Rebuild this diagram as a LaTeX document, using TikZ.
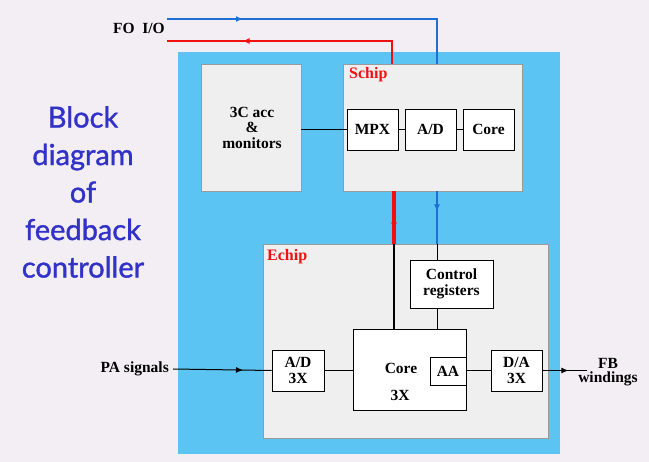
\documentclass[tikz,border=0pt]{standalone}
\usepackage{fontspec}
\setmainfont{Liberation Serif}
\newfontfamily\titlefont[FakeBold=1.2]{Lato}
\usetikzlibrary{arrows.meta,decorations.markings}
\definecolor{bg}{HTML}{F3EEF4}
\definecolor{skyb}{HTML}{5CC4F2}
\definecolor{boxg}{HTML}{EFEFEF}
\definecolor{boxline}{HTML}{9A9A9A}
\definecolor{wireblue}{HTML}{1F6FD2}
\definecolor{wirered}{HTML}{F01010}
\definecolor{titleblue}{HTML}{3232C8}
\begin{document}
\begin{tikzpicture}[x=1pt,y=-1pt,
  outerbox/.style={draw=boxline, fill=boxg, line width=0.8pt, inner sep=0pt},
  innerbox/.style={draw=black, fill=white, line width=0.9pt, inner sep=0pt, align=center,
    font=\fontsize{15.5}{16}\selectfont\bfseries},
  lbl/.style={inner sep=0pt, align=center, font=\fontsize{15.5}{16}\selectfont\bfseries},
  redlbl/.style={inner sep=0pt, anchor=west, text=wirered, font=\fontsize{16}{16}\selectfont\bfseries},
  wire/.style={line width=1pt},
  bwire/.style={line width=2.4pt, draw=wireblue},
  rwire/.style={line width=2.4pt, draw=wirered},
  midarrow/.style={postaction={decorate}, decoration={markings,
    mark=at position #1 with {\arrow{Latex[length=7pt,width=6pt]}}}}
]
\useasboundingbox (0,0) rectangle (649,462);
\fill[bg] (0,0) rectangle (649,462);
\fill[skyb] (178,52) rectangle (560,454);

% title
\node[font=\titlefont\fontsize{29}{37.5}\selectfont, text=titleblue, align=center, inner sep=0pt]
  (title) at (83,192) {Block\\diagram\\of\\feedback\\controller};

% upper boxes
\node[outerbox, minimum width=100pt, minimum height=127pt] (acc) at (251,127.5) {};
\node[lbl, font=\fontsize{15.5}{15.5}\selectfont\bfseries] (acctxt) at (252,127.5) {3C acc\\\&\\monitors};
\node[outerbox, minimum width=179pt, minimum height=127pt] (schip) at (432.5,127.5) {};
\node[redlbl] (schiplbl) at (349,75) {Schip};
\node[innerbox, minimum width=51pt, minimum height=41pt] (mpx) at (372.5,129.5) {MPX};
\node[innerbox, minimum width=51pt, minimum height=41pt] (sad) at (430.5,129.5) {A/D};
\node[innerbox, minimum width=51pt, minimum height=41pt] (score) at (488.5,129.5) {Core};
\draw[wire] (acc.east |- mpx.west) -- (mpx.west);
\draw[wire] (mpx) -- (sad);
\draw[wire] (sad) -- (score);

% Echip
\node[outerbox, minimum width=285pt, minimum height=194pt] (echip) at (405.5,341) {};
\node[redlbl] (echiplbl) at (267,257) {Echip};
\node[innerbox, minimum width=83pt, minimum height=48pt] (ctrl) at (451.5,284) {Control\\registers};
\node[innerbox, minimum width=113pt, minimum height=81pt] (core) at (409.5,369.5) {};
\node[lbl] (coretxt) at (401,368) {Core};
\node[lbl] (core3x) at (400,395) {3X};
\node[draw=black, line width=0.6pt, fill=white, minimum width=36pt, minimum height=28pt, inner sep=0pt,
  font=\fontsize{15.5}{16}\selectfont\bfseries] (aa) at (448,371) {AA};
\draw[line width=0.9pt] (core.north east) -- (core.south east);
\node[innerbox, minimum width=52pt, minimum height=41pt] (ead) at (298,370.5) {A/D\\3X};
\node[innerbox, minimum width=51pt, minimum height=41pt] (eda) at (516.5,370.5) {D/A\\3X};
\draw[wire] (ead.east) -- (ead.east -| core.west);
\draw[wire] (core.east |- eda.west) -- (eda.west);

% vertical buses
\coordinate (rx) at (394,0);
\coordinate (bx) at (437,0);
\draw[line width=1.4pt] (echip.north -| rx) -- (core.north -| rx);
\draw[wire] (echip.north -| bx) -- (ctrl.north -| bx);
\draw[wire] (ctrl.south -| bx) -- (core.north -| bx);
\draw[rwire, line width=3.4pt, midarrow=27pt] (echip.north -| rx) -- (schip.south -| rx);
\draw[bwire, midarrow=20pt] (schip.south -| bx) -- (echip.north -| bx);

% FO I/O
\coordinate (foB) at (167,19);
\coordinate (foR) at (167,41);
\coordinate (rtop) at (392,0);
\draw[bwire, midarrow=76pt] (foB) -| (schip.north -| bx);
\draw[rwire, midarrow=172pt] (schip.north -| rtop) |- (foR);
\node[lbl, anchor=east] (folbl) at (165,28) {FO~~I/O};

% PA signals / FB windings
\node[lbl, anchor=east] (palbl) at (169,369) {PA signals};
\draw[wire, midarrow=70pt] (palbl.east -| 173,0) -- (ead.west);
\coordinate (fbend) at (587,0);
\draw[wire, midarrow=26pt] (eda.east) -- (eda.east -| fbend);
\node[lbl, font=\fontsize{15.5}{14.5}\selectfont\bfseries] (fblbl) at (608,372) {FB\\windings};
\end{tikzpicture}
\end{document}
